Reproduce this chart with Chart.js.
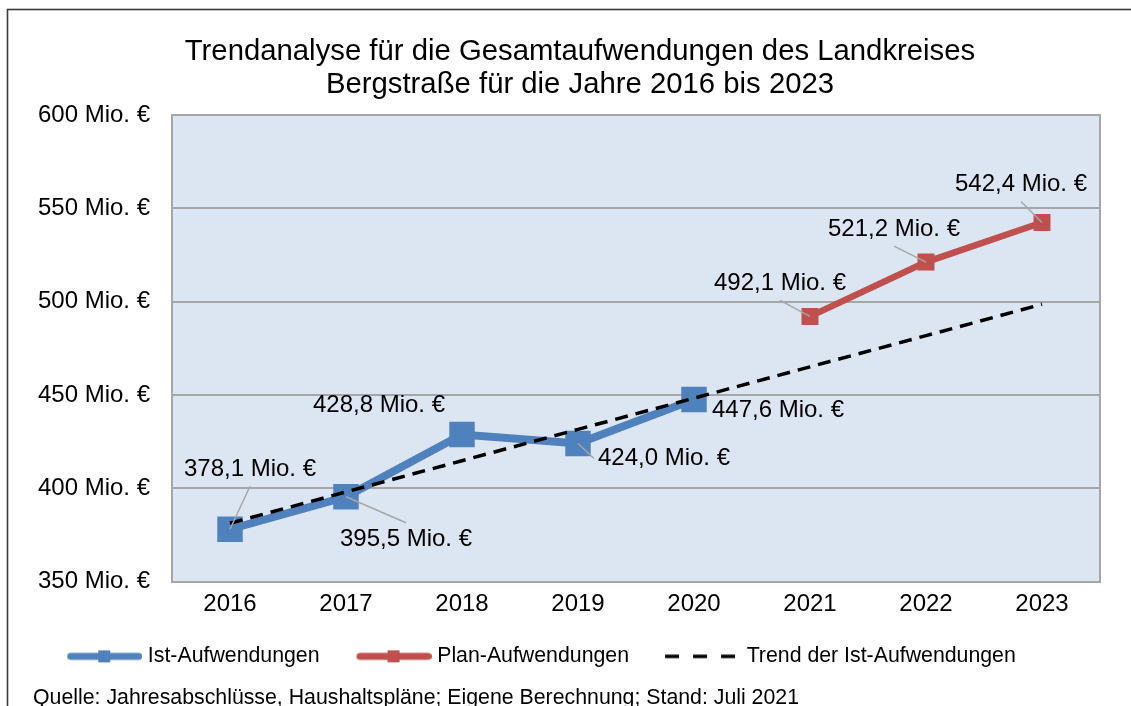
<!DOCTYPE html>
<html>
<head>
<meta charset="utf-8">
<script src="https://cdn.jsdelivr.net/npm/chart.js@4.4.0/dist/chart.umd.min.js"></script>
<style>
    html, body { margin: 0; padding: 0; background: #fff; }
    #wrap { position: relative; width: 1131px; height: 706px; }
</style>
</head>
<body>
<div id="wrap"><canvas id="trend-chart" width="1131" height="706"></canvas></div>
<script>
const years = ['2016', '2017', '2018', '2019', '2020', '2021', '2022', '2023'];
const ist_values = [378.1, 395.5, 428.8, 424.0, 447.6, null, null, null];
const plan_values = [null, null, null, null, null, 492.1, 521.2, 542.4];
const trend_values = [381.3, 398.1, 414.8, 431.6, 448.3, 465.1, 481.8, 498.6];
const y_ticks = [350, 400, 450, 500, 550, 600];
const legend_names = ['Ist-Aufwendungen', 'Plan-Aufwendungen', 'Trend der Ist-Aufwendungen'];
const title_lines = ['Trendanalyse für die Gesamtaufwendungen des Landkreises', 'Bergstraße für die Jahre 2016 bis 2023'];
const source_text = 'Quelle: Jahresabschlüsse, Haushaltspläne; Eigene Berechnung; Stand: Juli 2021';

const FONT = '"Liberation Sans", Arial, sans-serif';
const BLUE = '#4f81bd';
const RED = '#c0504d';
const GRID = '#a6a6a6';

// label placement per year: dx, dy from the point, leader side
const label_pos = [
    [20, -60, 'b'], [60, 43, 't'], [-83, -29, 'n'], [86, 15, 'l'],
    [84, 11, 'n'], [-30, -33, 'b'], [-32, -33, 'b'], [-21, -38, 'b']
];

// legend symbol: canvas is centred on the legend box, line starts 15px into the item
const make_legend_symbol = (color, dashed) => {
    const c = document.createElement('canvas')
    c.width = 95
    c.height = 16
    const g = c.getContext('2d')
    if (dashed) {
        g.strokeStyle = '#000'
        g.lineWidth = 3.5
        g.setLineDash([14, 14])
        g.beginPath()
        g.moveTo(19, 8)
        g.lineTo(89, 8)
        g.stroke()
    } else {
        g.strokeStyle = color
        g.lineWidth = 7
        g.lineCap = 'round'
        g.beginPath()
        g.moveTo(23.5, 8)
        g.lineTo(91.5, 8)
        g.stroke()
        g.fillStyle = color
        g.fillRect(51, 2, 12, 12)
    }
    return c
}
const legend_symbols = [make_legend_symbol(BLUE), make_legend_symbol(RED), make_legend_symbol('#000', true)];

const fmt = v => v.toFixed(1).replace('.', ',') + ' Mio. €'

const frame_plugin = {
    id: 'frame-and-plot',
    beforeDraw: (chart) => {
        const ctx = chart.ctx
        const {left, top, width, height} = chart.chartArea
        ctx.save()
        ctx.fillStyle = '#fff'
        ctx.fillRect(0, 0, chart.width, chart.height)
        ctx.strokeStyle = '#3a3a3a'
        ctx.lineWidth = 1.6
        ctx.strokeRect(7.5, 9.5, 1400, 900)
        ctx.fillStyle = '#dce6f2'
        ctx.fillRect(left, top, width, height)
        ctx.restore()
    },
    beforeDatasetsDraw: (chart) => {
        const ctx = chart.ctx
        const {top, right, bottom} = chart.chartArea
        ctx.save()
        ctx.strokeStyle = GRID
        ctx.lineWidth = 2
        ctx.beginPath()
        ctx.moveTo(right, top - 1)
        ctx.lineTo(right, bottom + 1)
        ctx.stroke()
        ctx.restore()
    },
    afterDraw: (chart) => {
        const ctx = chart.ctx
        ctx.save()
        ctx.fillStyle = '#000'
        ctx.textAlign = 'center'
        ctx.textBaseline = 'middle'
        ctx.font = '29.3px ' + FONT
        ctx.fillText(title_lines[0], 580, 52)
        ctx.fillText(title_lines[1], 580, 85)
        ctx.textAlign = 'left'
        ctx.textBaseline = 'alphabetic'
        ctx.font = '21.3px ' + FONT
        ctx.fillText(source_text, 33, 704)
        ctx.restore()
    }
};

const value_labels = {
    id: 'value-labels',
    afterDatasetsDraw: (chart) => {
        const ctx = chart.ctx
        ctx.save()
        ctx.font = '24px ' + FONT
        ctx.textAlign = 'center'
        ctx.textBaseline = 'middle'
        ;[1, 2].forEach(di => {
            const meta = chart.getDatasetMeta(di)
            chart.data.datasets[di].data.forEach((v, i) => {
                if (v === null) return
                const pt = meta.data[i]
                const [dx, dy, side] = label_pos[i]
                const text = fmt(v)
                const cx = pt.x + dx
                const cy = pt.y + dy
                const w = ctx.measureText(text).width
                let lx = null, ly = null
                if (side === 'b') { lx = cx; ly = cy + 17 }
                if (side === 't') { lx = cx; ly = cy - 17 }
                if (side === 'l') { lx = cx - w / 2 - 4; ly = cy }
                if (lx !== null) {
                    ctx.strokeStyle = GRID
                    ctx.lineWidth = 1.5
                    ctx.beginPath()
                    ctx.moveTo(lx, ly)
                    ctx.lineTo(pt.x, pt.y)
                    ctx.stroke()
                }
                ctx.fillStyle = '#000'
                ctx.fillText(text, cx, cy)
            })
        })
        ctx.restore()
    }
};

new Chart(document.getElementById('trend-chart'), {
    type: 'line',
    data: {
        labels: years,
        datasets: [
            {
                label: legend_names[2],
                data: trend_values,
                borderColor: '#000',
                borderWidth: 3.5,
                borderDash: [13, 8],
                borderCapStyle: 'butt',
                pointRadius: 0,
                fill: false,
            },
            {
                label: legend_names[0],
                data: ist_values,
                borderColor: BLUE,
                backgroundColor: BLUE,
                borderWidth: 8,
                pointStyle: 'rect',
                pointRadius: 18,
                pointBorderWidth: 0,
                fill: false,
            },
            {
                label: legend_names[1],
                data: plan_values,
                borderColor: RED,
                backgroundColor: RED,
                borderWidth: 6.5,
                pointStyle: 'rect',
                pointRadius: 12,
                pointBorderWidth: 0,
                fill: false,
            }
        ]
    },
    options: {
        responsive: false,
        animation: false,
        layout: {
            padding: {top: 115, right: 31, bottom: 29, left: -32}
        },
        scales: {
            x: {
                offset: true,
                grid: {display: false, drawTicks: false},
                border: {display: true, color: GRID, width: 2},
                ticks: {color: '#000', font: {family: FONT, size: 24}, padding: 8},
                afterFit: (s) => { s.height = 42 }
            },
            y: {
                min: y_ticks[0],
                max: y_ticks[y_ticks.length - 1],
                ticks: {
                    stepSize: 50,
                    color: '#000',
                    font: {family: FONT, size: 24},
                    padding: 22,
                    callback: (v) => v + ' Mio. €'
                },
                grid: {color: GRID, lineWidth: 2, drawTicks: false},
                border: {color: GRID, width: 2},
                afterFit: (s) => { s.width = 204 }
            }
        },
        plugins: {
            title: {display: false},
            tooltip: {enabled: false},
            legend: {
                display: true,
                position: 'bottom',
                labels: {
                    usePointStyle: true,
                    pointStyleWidth: 85,
                    padding: 22,
                    color: '#000',
                    font: {family: FONT, size: 21.3},
                    generateLabels: () => legend_names.map((name, i) => ({
                        text: name,
                        pointStyle: legend_symbols[i],
                        fillStyle: 'transparent',
                        strokeStyle: 'transparent',
                        lineWidth: 0,
                        hidden: false,
                        fontColor: '#000',
                        datasetIndex: [1, 2, 0][i]
                    }))
                }
            }
        }
    },
    plugins: [frame_plugin, value_labels]
})
</script>
</body>
</html>
